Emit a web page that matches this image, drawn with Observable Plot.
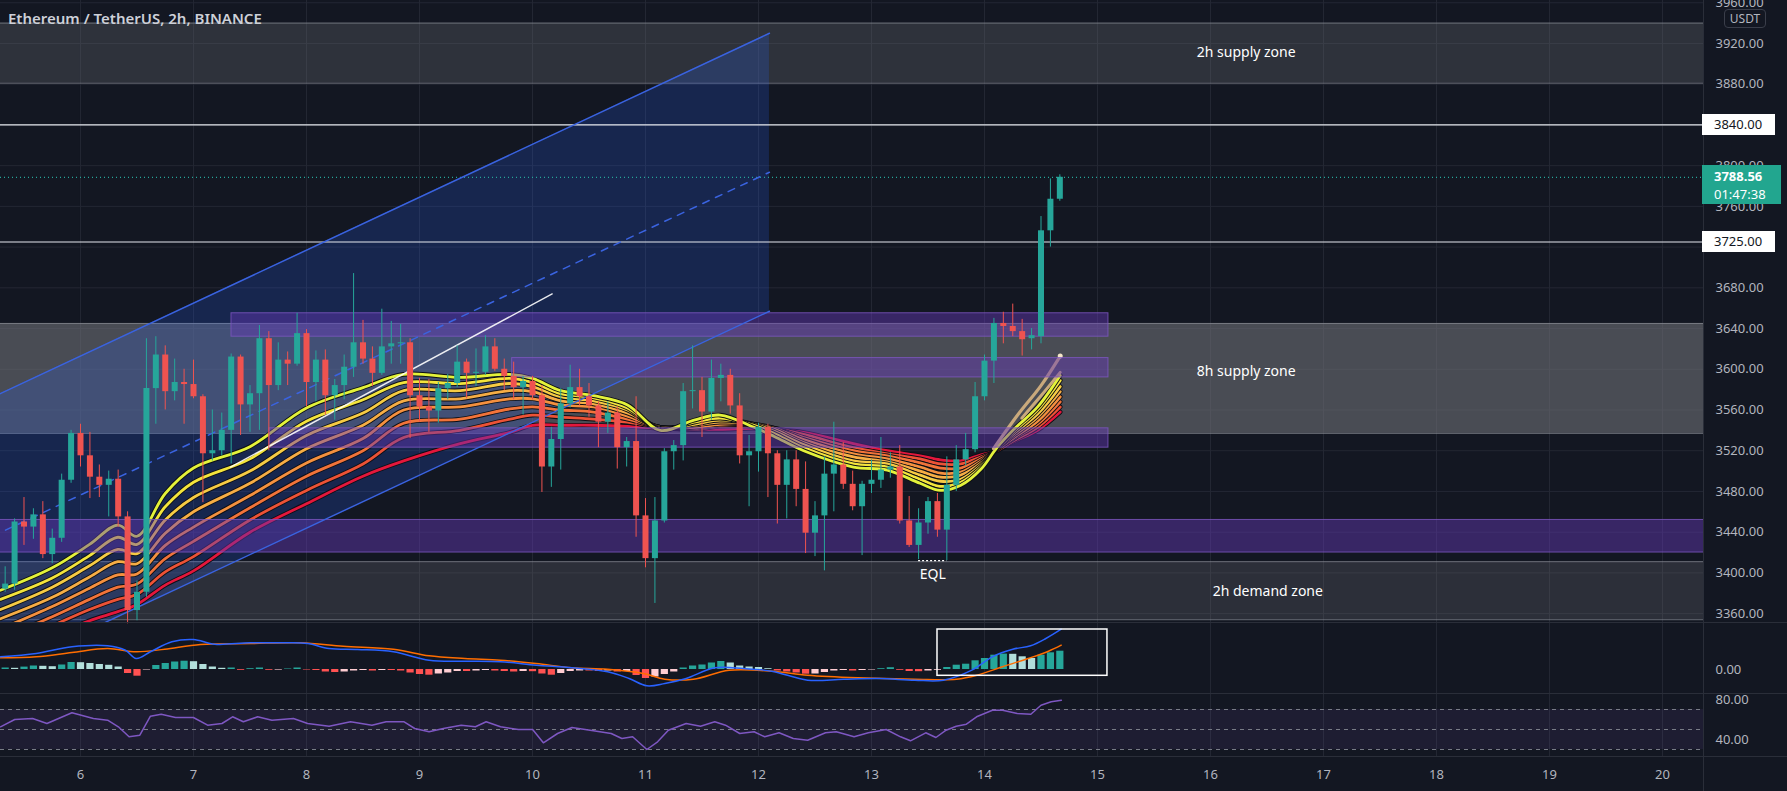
<!DOCTYPE html>
<html><head><meta charset="utf-8">
<script src="https://cdn.jsdelivr.net/npm/d3@7"></script>
<script src="https://cdn.jsdelivr.net/npm/@observablehq/plot@0.6"></script>
<style>
html,body{margin:0;padding:0;background:#131722;}
#wrap{position:relative;width:1787px;height:791px;background:#131722;overflow:hidden;font-family:"Noto Sans",Roboto,sans-serif;}
#wrap svg{position:absolute;left:0;}
.box{position:absolute;font-size:13px;line-height:21px;padding-left:12px;box-sizing:border-box;}
</style></head><body><div id="wrap"></div><script>
// ---------- DATA ----------
const title = "Ethereum / TetherUS, 2h, BINANCE";
const priceTicks = [3360,3400,3440,3480,3520,3560,3600,3640,3680,3760,3800,3880,3920,3960];
const gridTicks = [3360,3400,3440,3480,3520,3560,3600,3640,3680,3720,3760,3800,3840,3880,3920,3960];
const dayTicks = [6,7,8,9,10,11,12,13,14,15,16,17,18,19,20];
const firstCandle = 5 + 8/24; // Dec 5, 08:00 UTC, 2h candles
const opens  = [3384,3389,3450,3445,3457,3418,3434,3491,3537,3515,3494,3486,3492,3455,3363,3381,3581,3614,3578,3587,3585,3573,3517,3520,3540,3612,3565,3576,3630,3584,3609,3605,3635,3587,3609,3574,3584,3602,3626,3610,3596,3622,3625,3626,3574,3563,3559,3581,3586,3607,3596,3597,3622,3600,3593,3582,3588,3574,3504,3531,3566,3582,3573,3564,3548,3557,3523,3529,3456,3414,3451,3519,3525,3578,3579,3558,3591,3594,3564,3515,3519,3543,3517,3486,3511,3482,3439,3456,3497,3506,3487,3465,3487,3491,3501,3504,3451,3427,3449,3470,3442,3486,3511,3521,3573,3608,3645,3642,3637,3630,3632,3736,3767];
const highs  = [3406,3453,3474,3463,3470,3443,3497,3540,3546,3538,3506,3500,3501,3460,3392,3630,3632,3623,3610,3600,3609,3575,3560,3557,3615,3614,3584,3643,3637,3626,3617,3655,3639,3618,3619,3590,3614,3694,3648,3622,3659,3647,3644,3630,3591,3590,3587,3595,3623,3610,3620,3633,3630,3610,3607,3593,3593,3584,3543,3581,3604,3600,3586,3568,3568,3563,3533,3573,3473,3474,3522,3530,3586,3623,3592,3609,3605,3600,3576,3535,3547,3546,3520,3520,3520,3509,3470,3514,3548,3528,3500,3490,3511,3533,3518,3525,3475,3463,3474,3478,3514,3525,3537,3587,3614,3650,3656,3664,3649,3640,3750,3787,3791];
const lows   = [3381,3383,3427,3433,3414,3409,3430,3488,3504,3473,3474,3455,3445,3350,3353,3376,3546,3560,3569,3546,3571,3469,3510,3515,3507,3535,3538,3540,3520,3579,3584,3603,3563,3568,3555,3550,3570,3592,3605,3583,3594,3605,3605,3532,3548,3538,3547,3570,3582,3571,3583,3594,3598,3579,3570,3555,3570,3479,3484,3501,3562,3564,3553,3523,3537,3502,3504,3435,3405,3370,3449,3501,3510,3561,3533,3550,3568,3556,3507,3465,3499,3474,3448,3453,3465,3419,3416,3402,3460,3482,3461,3417,3478,3483,3493,3448,3425,3413,3438,3435,3412,3480,3505,3518,3569,3586,3625,3632,3613,3619,3625,3720,3765];
const closes = [3389,3450,3445,3457,3418,3434,3491,3537,3515,3494,3486,3492,3455,3363,3381,3581,3614,3578,3587,3585,3573,3517,3520,3540,3612,3565,3576,3630,3584,3609,3605,3635,3587,3609,3574,3584,3602,3626,3610,3596,3622,3625,3626,3574,3563,3559,3581,3586,3607,3596,3597,3622,3600,3593,3582,3588,3574,3504,3531,3566,3582,3573,3564,3548,3557,3523,3529,3456,3414,3451,3519,3525,3578,3579,3558,3591,3594,3564,3515,3519,3543,3517,3486,3511,3482,3439,3456,3497,3506,3487,3465,3487,3491,3501,3504,3451,3427,3449,3470,3442,3486,3511,3521,3573,3608,3645,3642,3637,3629,3633,3736,3767,3788.56];

// EMA ribbon, read at key days (fast -> slow)
const ribbonDays = [5.292,5.75,6.08,6.33,6.5,6.75,7.0,7.5,8.0,8.5,8.86,9.36,9.8,10.0,10.25,10.54,10.84,11.13,11.43,11.66,11.96,12.14,12.40,12.84,13.14,13.43,13.61,13.79,13.97,14.11,14.26,14.47,14.67];
const ema1 = [3383,3405,3428,3447,3436,3478,3503,3524,3562,3582,3595,3592,3595,3591,3579,3574,3565,3540,3550,3555,3543,3534,3520,3504,3501,3488,3481,3486,3502,3523,3541,3563,3594];
const ema2 = [3374,3395,3417,3435,3428,3465,3489,3512,3549,3570,3587,3586,3591,3587,3576,3572,3562,3541,3548,3552,3545,3537,3523,3507,3504,3492,3485,3489,3504,3523,3539,3560,3589];
const ema3 = [3364,3386,3407,3423,3419,3452,3474,3500,3535,3557,3579,3579,3586,3583,3573,3569,3560,3542,3546,3550,3546,3539,3526,3510,3507,3496,3490,3492,3506,3522,3537,3556,3583];
const ema4 = [3355,3376,3396,3411,3409,3439,3460,3488,3522,3545,3569,3571,3579,3578,3569,3566,3557,3543,3545,3548,3546,3541,3528,3514,3509,3500,3494,3496,3508,3522,3535,3553,3578];
const ema5 = [3345,3367,3385,3398,3399,3427,3445,3476,3508,3532,3560,3563,3571,3571,3565,3563,3554,3543,3543,3546,3546,3542,3531,3517,3512,3504,3498,3499,3510,3521,3533,3549,3573];
const ema6 = [3336,3357,3374,3386,3389,3414,3431,3464,3495,3520,3547,3551,3561,3563,3560,3558,3551,3543,3542,3545,3545,3542,3533,3520,3515,3508,3503,3503,3512,3521,3532,3546,3568];
const ema7 = [3326,3348,3364,3374,3379,3401,3416,3452,3481,3507,3533,3540,3551,3555,3553,3551,3548,3543,3541,3544,3544,3542,3536,3523,3517,3512,3507,3507,3514,3520,3530,3543,3563];
const ema8 = [3316,3338,3353,3362,3369,3388,3402,3440,3468,3495,3510,3527,3538,3545,3545,3545,3544,3542,3541,3541,3542,3541,3538,3527,3520,3515,3511,3510,3516,3520,3529,3540,3558];
const ribbonColors = ["#e3f23a","#f3e43c","#f6cb44","#f6ad45","#f4903f","#f1733a","#ec5236","#e3173c"];
const tanDays = [14.08,14.3,14.5,14.67], tanVals = [3522,3556,3584,3613];
const tan2Days = [14.33,14.5,14.67], tan2Vals = [3552,3574,3597];

// Zones
const grayZoneLabels = ["2h supply zone","8h supply zone","2h demand zone"];
const grayZoneLow  = [3881,3537,3354];
const grayZoneHigh = [3940,3645,3411];
const grayZoneOpacity = [0.3,0.6,0.28];
const labelDay = [16.316,16.316,16.507];
const labelPrice = [3911,3598,3382];
const purpleStart = [7.336,9.82,7.673,5.0];
const purpleEnd   = [15.097,15.097,15.097,21.0];
const purpleLow   = [3632,3592,3523,3420];
const purpleHigh  = [3655,3611,3542,3452];
// Channel
const channelDays = [5.0,12.097];
const channelUpper = [3561,3930];
const channelLower = [3288,3657];
const trendDays = [7.327,10.174], trendVals = [3504,3674];
const levels = [3840,3725];
const lastPrice = 3788.56, countdown = "01:47:38";
const eqlPrice = 3412, eqlFrom = 97, eqlTo = 100;

// MACD
const macdDays = [5.292,5.608,5.924,6.240,6.398,6.493,6.619,6.809,6.999,7.188,7.504,7.820,8.010,8.200,8.452,8.769,9.085,9.401,9.717,10.033,10.349,10.665,10.855,11.012,11.171,11.360,11.613,11.866,12.118,12.435,12.751,13.067,13.383,13.636,13.888,14.069,14.250,14.408,14.543,14.679];
const macdVals = [12.7,16,22.7,23.7,19.3,11,17.7,27.7,30,25.3,26.7,26.7,26,21,20,17.7,9.3,8.3,7.7,4.3,1.7,-2.3,-9,-16.3,-14,-9,1.7,1,-1.7,-10.7,-9.7,-9,-10.7,-10.7,-0.7,12.7,20.3,23.7,31,40.3];
const signalDays = [5.292,5.608,5.924,6.240,6.493,6.745,7.062,7.504,7.946,8.326,8.769,9.085,9.401,9.717,10.033,10.349,10.665,10.981,11.171,11.424,11.740,12.118,12.435,12.877,13.383,13.753,13.933,14.159,14.386,14.566,14.679];
const signalVals = [11.7,12.7,17,21,17.7,20.3,25,26,26.7,23.3,20.3,13.7,11,9.3,6,1.7,0.3,-4,-9.7,-9.7,-0.7,-1.7,-5.7,-8.3,-9.7,-9.7,-5.7,2.7,11,18.3,24.3];
const histVals = [1.5,1.2,2.4,3.5,3.2,2.8,4.5,7,6.8,6,5,4.2,2.5,
 -4,-6.7,-0.5,4,6,7.5,8.3,7.8,5,2.5,1.2,1.5,-0.8,0.8,1.5,-0.8,-0.6,0.5,1.5,
 -0.5,-1,-2.5,-3,-2.5,-1.5,-1,-1.5,-1,-1,-1.5,-3.5,-5,-5.7,
 -4.5,-3.5,-2,-2,-1.5,-1,-1.5,-2,-2.5,-2,-2.2,-4.5,-5.7,-4,-2,-1.5,-1.5,-2,-1.5,-2.5,-2,
 -6,-9,-7.5,-5,-2.5,1.5,3.5,4.5,6.5,8,6.5,3.5,2.5,2,0.8,
 -1.5,-2.5,-3.5,-4.7,-4.5,-3,-1.5,-1,-1.5,-1,-0.5,0.8,1.8,-0.8,-2,-2.2,-1.5,-0.8,
 2,4.3,5.3,8.7,11,14.3,15.4,15.2,12.7,11,14.3,16.7,18.3];
const boxDays = [13.584,15.088], boxVals = [-6.3,40];
// RSI
const rsiDays = [5.292,5.418,5.576,5.703,5.924,6.114,6.240,6.335,6.430,6.525,6.619,6.714,6.841,6.999,7.125,7.252,7.346,7.441,7.568,7.694,7.884,8.010,8.200,8.390,8.579,8.705,8.864,8.958,9.085,9.211,9.369,9.495,9.590,9.717,9.875,10.001,10.096,10.222,10.349,10.539,10.696,10.791,10.886,11.012,11.107,11.202,11.360,11.487,11.613,11.708,11.834,11.961,12.055,12.182,12.308,12.435,12.593,12.688,12.846,12.972,13.130,13.257,13.345,13.48,13.57,13.66,13.75,13.84,13.93,14.07,14.16,14.29,14.41,14.5,14.59,14.68];
const rsiVals = [52.7,60,61,56,66.7,61,59.3,52.7,42.7,44.3,63.3,65.3,62,62,54.3,56,62.7,57.7,62.7,59.3,61,56,53.3,57.7,54.3,57.7,57.7,51,47.7,51,54.3,52.7,57.7,52.7,50,50,36.7,46,52,48.7,46,41,42.7,30,37.7,49.3,56,53.3,57.7,54.3,46,47.7,42.7,46.7,41,39.3,46.7,47.7,42.7,46.7,50,42.7,38.7,46.7,42,49.3,53.3,55.3,62.7,69.3,69.3,66,65.3,74.3,77.7,79.3];
const rsiLevels = [70,50,30];

// ---------- HELPERS ----------
const T = d => new Date(Date.UTC(2021, 11, 1) + (d - 1) * 864e5);
const zip = (days, vals) => days.slice(0, Math.min(days.length, vals.length)).map((d, i) => ({t: T(d), v: vals[i]}));
const W = 1787, MR = 84;
const xDomain = [T(5.29204), T(20.3628)];
const FONT = "'Noto Sans', Roboto, sans-serif";
const baseStyle = {background: "transparent", fontFamily: FONT, fontSize: "13px", color: "#b2b5be", overflow: "visible"};
const GRID = "#232733";
const UP = "#26a69a", DOWN = "#ef5350";

const candles = opens.map((o, k) => ({t: T(firstCandle + k / 12), o, h: highs[k], l: lows[k], c: closes[k]}));
const emas = [ema1, ema2, ema3, ema4, ema5, ema6, ema7, ema8];
const grayZones = grayZoneLabels.map((n, i) => ({n, lo: grayZoneLow[i], hi: grayZoneHigh[i], op: grayZoneOpacity[i], t: T(labelDay[i]), ly: labelPrice[i]}));
const purple = purpleStart.map((s, i) => ({a: T(s), b: T(purpleEnd[i]), lo: purpleLow[i], hi: purpleHigh[i]}));
const channel = channelDays.map((d, i) => ({t: T(d), up: channelUpper[i], lo: channelLower[i], mid: (channelUpper[i] + channelLower[i]) / 2}));

// ---------- PRICE PANE ----------
const ribbonMarks = [];
for (let i = 7; i >= 0; i--) {
  const data = zip(ribbonDays, emas[i]);
  ribbonMarks.push(Plot.line(data, {x: "t", y: "v", stroke: "#0d0f15", strokeWidth: 4.6, curve: "catmull-rom", clip: true}));
  ribbonMarks.push(Plot.line(data, {x: "t", y: "v", stroke: ribbonColors[i], strokeWidth: 2.8, curve: "catmull-rom", clip: true}));
}

const price = Plot.plot({
  width: W, height: 623, marginLeft: 0, marginRight: MR, marginTop: 0, marginBottom: 0,
  style: baseStyle,
  color: {type: "identity"},
  x: {type: "utc", domain: xDomain, axis: null},
  y: {domain: [3350.3, 3962.2], axis: "right", ticks: priceTicks, tickFormat: d => d.toFixed(2), tickSize: 0, tickPadding: 12, label: null},
  marks: [
    Plot.ruleY(gridTicks, {stroke: GRID}),
    Plot.ruleX(dayTicks.map(T), {stroke: GRID}),
    Plot.rect(grayZones, {x1: xDomain[0], x2: xDomain[1], y1: "lo", y2: "hi", fill: "#6e7076", fillOpacity: "op"}),
    Plot.ruleY(grayZones, {y: "lo", stroke: "#8a8d96", strokeOpacity: 0.7}),
    Plot.ruleY(grayZones, {y: "hi", stroke: "#8a8d96", strokeOpacity: 0.7}),
    Plot.areaY(channel, {x: "t", y1: "lo", y2: "up", fill: "#2962ff", fillOpacity: 0.2, clip: true}),
    Plot.ruleY(levels, {stroke: "#e6e8ee", strokeWidth: 1.2}),
    Plot.ruleY([lastPrice], {stroke: UP, strokeDasharray: "1,3", strokeWidth: 1.2}),
    ...ribbonMarks,
    Plot.line(zip(tanDays, tanVals), {x: "t", y: "v", stroke: "#c9a97c", strokeWidth: 3.2, curve: "catmull-rom"}),
    Plot.line(zip(tan2Days, tan2Vals), {x: "t", y: "v", stroke: "#c9a97c", strokeWidth: 3, curve: "catmull-rom"}),
    Plot.dot(zip(tanDays, tanVals).slice(-1), {x: "t", y: "v", r: 2.5, fill: "#f4e6c8"}),
    Plot.rect(purple, {x1: "a", x2: "b", y1: "lo", y2: "hi", fill: "#673ab7", fillOpacity: 0.45, stroke: "#7e57c2", strokeOpacity: 0.8, clip: true}),
    Plot.line(channel, {x: "t", y: "up", stroke: "#3a63e0", strokeWidth: 1.5, clip: true}),
    Plot.line(channel, {x: "t", y: "lo", stroke: "#3a63e0", strokeWidth: 1.5, clip: true}),
    Plot.line(channel, {x: "t", y: "mid", stroke: "#3a63e0", strokeWidth: 1.5, strokeDasharray: "7,7", clip: true}),
    Plot.line(zip(trendDays, trendVals), {x: "t", y: "v", stroke: "#ffffff", strokeWidth: 1.4, strokeOpacity: 0.9}),
    Plot.ruleX(candles, {x: "t", y1: "l", y2: "h", stroke: d => d.c >= d.o ? UP : DOWN, strokeWidth: 1}),
    Plot.ruleX(candles, {x: "t", y1: "o", y2: "c", stroke: d => d.c >= d.o ? UP : DOWN, strokeWidth: 6}),
    Plot.ruleY([eqlPrice], {x1: candles[eqlFrom].t, x2: candles[eqlTo].t, stroke: "#ffffff", strokeDasharray: "2,2", strokeWidth: 1.3}),
    Plot.text(["EQL"], {x: T(firstCandle + (eqlFrom + eqlTo) / 24), y: 3398, text: d => d, fill: "#ffffff", fontSize: 14}),
    Plot.text(grayZones, {x: "t", y: "ly", text: "n", fill: "#ffffff", fontSize: 14})
  ]
});
price.style.top = "0px";

// ---------- MACD PANE ----------
const hist = histVals.map((v, k) => {
  const p = k > 0 ? histVals[k - 1] : 0;
  const col = v >= 0 ? (v >= p ? "#26a69a" : "#b2dfdb") : (v <= p ? "#ff5252" : "#ffcdd2");
  return {t: T(firstCandle + k / 12), v, col};
});
const macd = Plot.plot({
  width: W, height: 71, marginLeft: 0, marginRight: MR, marginTop: 0, marginBottom: 0,
  style: baseStyle,
  color: {type: "identity"},
  x: {type: "utc", domain: xDomain, axis: null},
  y: {domain: [-25, 46], axis: "right", ticks: [0], tickFormat: d => d.toFixed(2), tickSize: 0, tickPadding: 12, label: null},
  marks: [
    Plot.ruleX(dayTicks.map(T), {stroke: GRID}),
    Plot.ruleX(hist, {x: "t", y1: 0, y2: "v", stroke: "col", strokeWidth: 7.2}),
    Plot.line(zip(signalDays, signalVals), {x: "t", y: "v", stroke: "#ff6d00", strokeWidth: 1.5, curve: "catmull-rom"}),
    Plot.line(zip(macdDays, macdVals), {x: "t", y: "v", stroke: "#2962ff", strokeWidth: 1.5, curve: "catmull-rom"}),
    Plot.rect([0], {x1: T(boxDays[0]), x2: T(boxDays[1]), y1: boxVals[0], y2: boxVals[1], fill: "none", stroke: "#ffffff", strokeWidth: 1.5})
  ]
});
macd.style.top = "623px";

// ---------- RSI PANE + TIME AXIS ----------
const rsi = Plot.plot({
  width: W, height: 97, marginLeft: 0, marginRight: MR, marginTop: 0, marginBottom: 34,
  style: baseStyle,
  x: {type: "utc", domain: xDomain, ticks: dayTicks.map(T), tickFormat: d => String(d.getUTCDate()), tickSize: 0, tickPadding: 12, label: null},
  y: {domain: [22, 85], axis: "right", ticks: [40, 80], tickFormat: d => d.toFixed(2), tickSize: 0, tickPadding: 12, label: null},
  marks: [
    Plot.ruleX(dayTicks.map(T), {stroke: GRID}),
    Plot.rect([0], {x1: xDomain[0], x2: xDomain[1], y1: 30, y2: 70, fill: "#7e57c2", fillOpacity: 0.1}),
    Plot.ruleY(rsiLevels, {stroke: "#787b86", strokeDasharray: "4,4", strokeWidth: 1}),
    Plot.line(zip(rsiDays, rsiVals), {x: "t", y: "v", stroke: "#7e57c2", strokeWidth: 1.5})
  ]
});
rsi.style.top = "694px";

const wrap = document.getElementById("wrap");
wrap.append(price, macd, rsi);

// ---------- HTML OVERLAYS ----------
function div(css, text) { const d = document.createElement("div"); d.style.cssText = "position:absolute;" + css; if (text != null) d.textContent = text; wrap.appendChild(d); return d; }
div("left:0;top:622px;width:1787px;height:1px;background:#2a2e39;");
div("left:0;top:693px;width:1787px;height:1px;background:#2a2e39;");
div("left:0;top:756px;width:1787px;height:1px;background:#2a2e39;");
div("left:1703px;top:0;width:1px;height:791px;background:#2a2e39;");
div("left:8px;top:8px;font-size:15px;font-weight:600;color:#cdd0d8;font-family:" + FONT + ";", title);
div("left:1724px;top:9px;width:42px;height:19px;border:1px solid #3a3e4a;border-radius:4px;box-sizing:border-box;font-size:12px;line-height:17px;text-align:center;color:#b2b5be;background:#131722;", "USDT");
const ys = price.scale("y");
levels.forEach(v => {
  const y = ys.apply(v);
  const b = div("left:1702px;width:73px;height:21px;top:" + (y - 10.5) + "px;background:#ffffff;color:#131722;", v.toFixed(2));
  b.className = "box";
});
{
  const y = ys.apply(lastPrice);
  const b = div("left:1702px;width:79px;height:39px;top:" + (y - 12) + "px;background:#22a68f;color:#ffffff;font-size:13px;line-height:18px;padding:2px 0 0 12px;box-sizing:border-box;");
  b.innerHTML = "<div style='font-weight:700'>" + lastPrice.toFixed(2) + "</div><div>" + countdown + "</div>";
}
</script></body></html>
